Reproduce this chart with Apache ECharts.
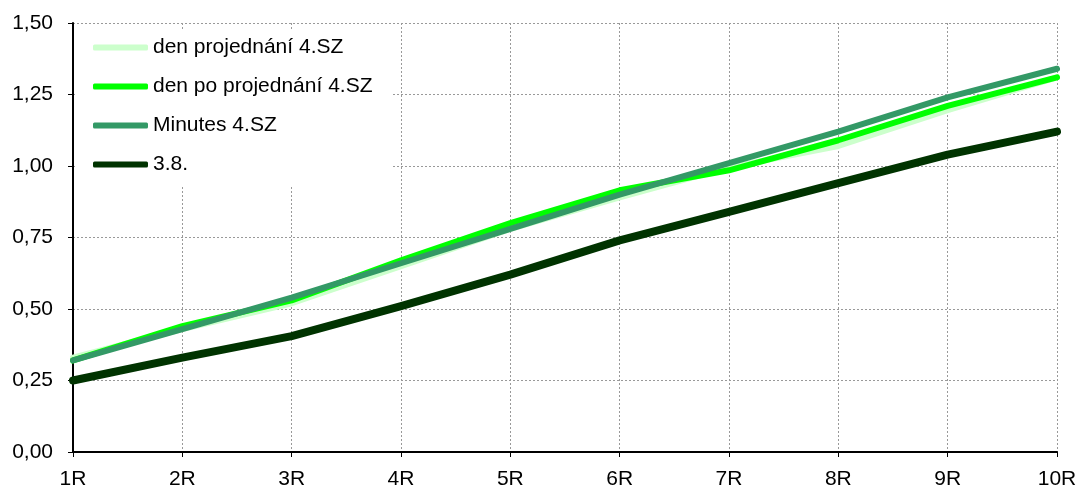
<!DOCTYPE html>
<html>
<head>
<meta charset="utf-8">
<script src="https://cdn.jsdelivr.net/npm/echarts@6/dist/echarts.min.js"></script>
<style>
  html, body { margin: 0; padding: 0; background: #fff; }
  #chart { width: 1081px; height: 494px; }
</style>
</head>
<body>
<div id="chart"></div>
<script>
const categories = ['1R', '2R', '3R', '4R', '5R', '6R', '7R', '8R', '9R', '10R'];
const denProjednani = [0.33, 0.43, 0.52, 0.65, 0.78, 0.89, 0.995, 1.07, 1.195, 1.31];
const denPoProjednani = [0.32, 0.44, 0.53, 0.67, 0.80, 0.915, 0.985, 1.09, 1.21, 1.31];
const minutes = [0.32, 0.43, 0.54, 0.66, 0.78, 0.90, 1.01, 1.12, 1.24, 1.34];
const d38 = [0.25, 0.33, 0.405, 0.51, 0.62, 0.74, 0.84, 0.94, 1.04, 1.12];

const seriesNames = ['den projednání 4.SZ', 'den po projednání 4.SZ', 'Minutes 4.SZ', '3.8.'];
const seriesColors = ['#ccffcc', '#00ff00', '#339966', '#003300'];
const seriesWidths = [6, 6, 6, 8];
const seriesData = [denProjednani, denPoProjednani, minutes, d38];

var chartDom = document.getElementById('chart');
var myChart = echarts.init(chartDom);

var series = [];
seriesNames.forEach(function (name, i) {
    series.push({
        name: name,
        type: 'line',
        data: seriesData[i],
        symbol: 'none',
        smooth: false,
        color: seriesColors[i],
        lineStyle: { width: seriesWidths[i], color: seriesColors[i], cap: 'round', join: 'round' }
    });
});

var fontName = 'Liberation Sans, Arial, sans-serif';

var option = {
    animation: false,
    textStyle: { fontFamily: fontName },
    grid: { left: 73, right: 24, top: 23, bottom: 42 },
    legend: {
        orient: 'vertical',
        left: 75,
        top: 29,
        padding: [8, 20, 10, 18],
        backgroundColor: '#ffffff',
        icon: 'roundRect',
        itemWidth: 55,
        itemHeight: 6,
        itemGap: 18,
        textStyle: { fontSize: 21, color: '#000', fontFamily: fontName },
        data: seriesNames
    },
    xAxis: {
        type: 'category',
        data: categories,
        boundaryGap: false,
        axisLine: { lineStyle: { color: '#000', width: 2 } },
        axisTick: { show: true, length: 5, lineStyle: { color: '#000' } },
        axisLabel: { fontSize: 21, color: '#000', margin: 17 },
        splitLine: { show: true, lineStyle: { color: '#999', type: [2, 2], width: 1 } }
    },
    yAxis: {
        type: 'value',
        min: 0,
        max: 1.5,
        interval: 0.25,
        axisLine: { show: true, lineStyle: { color: '#000', width: 2 } },
        axisTick: { show: true, length: 5, lineStyle: { color: '#000' } },
        axisLabel: {
            fontSize: 21,
            color: '#000',
            margin: 20,
            formatter: function (v) { return v.toFixed(2).replace('.', ','); }
        },
        splitLine: { show: true, lineStyle: { color: '#999', type: [2, 2], width: 1 } }
    },
    series: series
};
myChart.setOption(option);
</script>
</body>
</html>
